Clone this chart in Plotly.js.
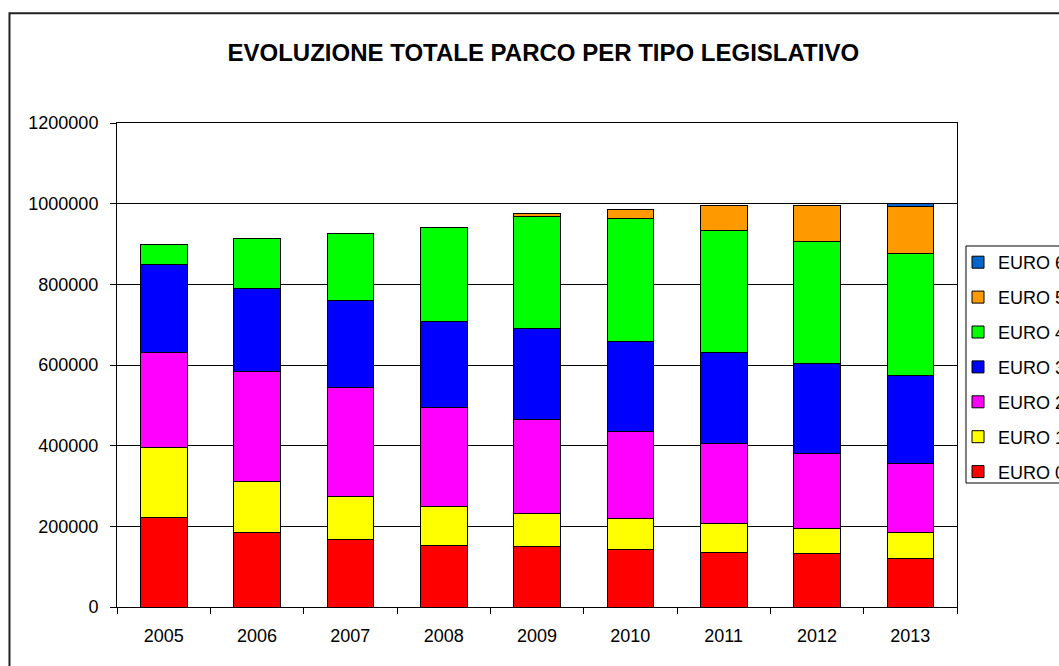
<!DOCTYPE html>
<html>
<head>
<meta charset="utf-8">
<script src="https://cdn.plot.ly/plotly-3.0.1.min.js"></script>
<style>
  html, body { margin: 0; padding: 0; background: #fff; }
  #chart { width: 1059px; height: 666px; }
</style>
</head>
<body>
<div id="chart"></div>
<script>
// Years and stacked series (vehicle counts per emission class)
const years = ["2005", "2006", "2007", "2008", "2009", "2010", "2011", "2012", "2013"];

const euro0 = [223000, 185000, 168000, 153000, 149000, 143000, 135000, 132000, 121000];
const euro1 = [172000, 125000, 105000, 95000, 84000, 76000, 71000, 63000, 63000];
const euro2 = [235000, 274000, 270000, 246000, 233000, 215000, 200000, 186000, 172000];
const euro3 = [218000, 205000, 218000, 214000, 225000, 224000, 225000, 222000, 218000];
const euro4 = [52000, 125000, 164000, 232000, 276000, 306000, 302000, 302000, 303000];
const euro5 = [0, 0, 0, 0, 8000, 21000, 63000, 91000, 115000];
const euro6 = [0, 0, 0, 0, 0, 0, 0, 0, 8000];

const seriesNames = ["EURO 0", "EURO 1", "EURO 2", "EURO 3", "EURO 4", "EURO 5", "EURO 6"];
const seriesData = [euro0, euro1, euro2, euro3, euro4, euro5, euro6];
const seriesColors = ["#ff0000", "#ffff00", "#ff00ff", "#0000ff", "#00ff00", "#ff9900", "#0066cc"];

const FONT = "Liberation Sans, Arial, sans-serif";

// legend lists the newest class on top, like the stacking order
const traces = seriesData.map((vals, i) => ({
    type: "bar",
    name: seriesNames[i],
    x: years,
    y: vals,
    legendgroup: "g" + i,
    legendrank: 100 - i,
    marker: {
        color: seriesColors[i],
        line: {color: "#000000", width: 1}
    },
    hoverinfo: "x+y+name"
}));

const layout = {
    width: 1059,
    height: 666,
    barmode: "stack",
    bargap: 0.5,
    paper_bgcolor: "#ffffff",
    plot_bgcolor: "#ffffff",
    font: {family: FONT, size: 18, color: "#000000"},
    margin: {l: 117, r: 102, t: 123, b: 59, autoexpand: false},
    title: {
        text: "<b>EVOLUZIONE TOTALE PARCO PER TIPO LEGISLATIVO</b>",
        font: {family: FONT, size: 24, color: "#000000"},
        x: 0.513,
        xanchor: "center",
        y: 0.921,
        yanchor: "middle"
    },
    xaxis: {
        type: "category",
        showgrid: false,
        showline: true,
        linecolor: "#000000",
        linewidth: 1,
        mirror: true,
        ticks: "outside",
        tickson: "boundaries",
        ticklen: 6,
        tickcolor: "#000000",
        ticklabelstandoff: 12,
        tickfont: {family: FONT, size: 18},
        zeroline: false
    },
    yaxis: {
        range: [0, 1200000],
        dtick: 200000,
        tickformat: "d",
        showgrid: true,
        gridcolor: "#000000",
        gridwidth: 1,
        showline: true,
        linecolor: "#000000",
        linewidth: 1,
        mirror: true,
        ticks: "outside",
        ticklen: 6,
        tickcolor: "#000000",
        ticklabelstandoff: 8,
        tickfont: {family: FONT, size: 18},
        zeroline: false
    },
    legend: {
        traceorder: "grouped",
        x: 1.0012,
        xanchor: "left",
        y: 0.750,
        yanchor: "top",
        bgcolor: "rgba(0,0,0,0)",
        borderwidth: 0,
        tracegroupgap: 8.5,
        font: {family: FONT, size: 18}
    },
    shapes: [
        {
            // outer chart frame
            type: "rect",
            xref: "paper", yref: "paper",
            x0: -0.128, x1: 1.6,
            y0: -0.5, y1: 1.227,
            line: {color: "#222222", width: 2},
            fillcolor: "rgba(0,0,0,0)",
            layer: "below"
        },
        {
            // legend box
            type: "rect",
            xref: "paper", yref: "paper",
            x0: 1.0107, x1: 1.3,
            y0: 0.2562, y1: 0.7459,
            line: {color: "#000000", width: 1},
            fillcolor: "rgba(0,0,0,0)",
            layer: "below"
        }
    ]
};

Plotly.newPlot("chart", traces, layout, {displayModeBar: false, staticPlot: true});
</script>
</body>
</html>
